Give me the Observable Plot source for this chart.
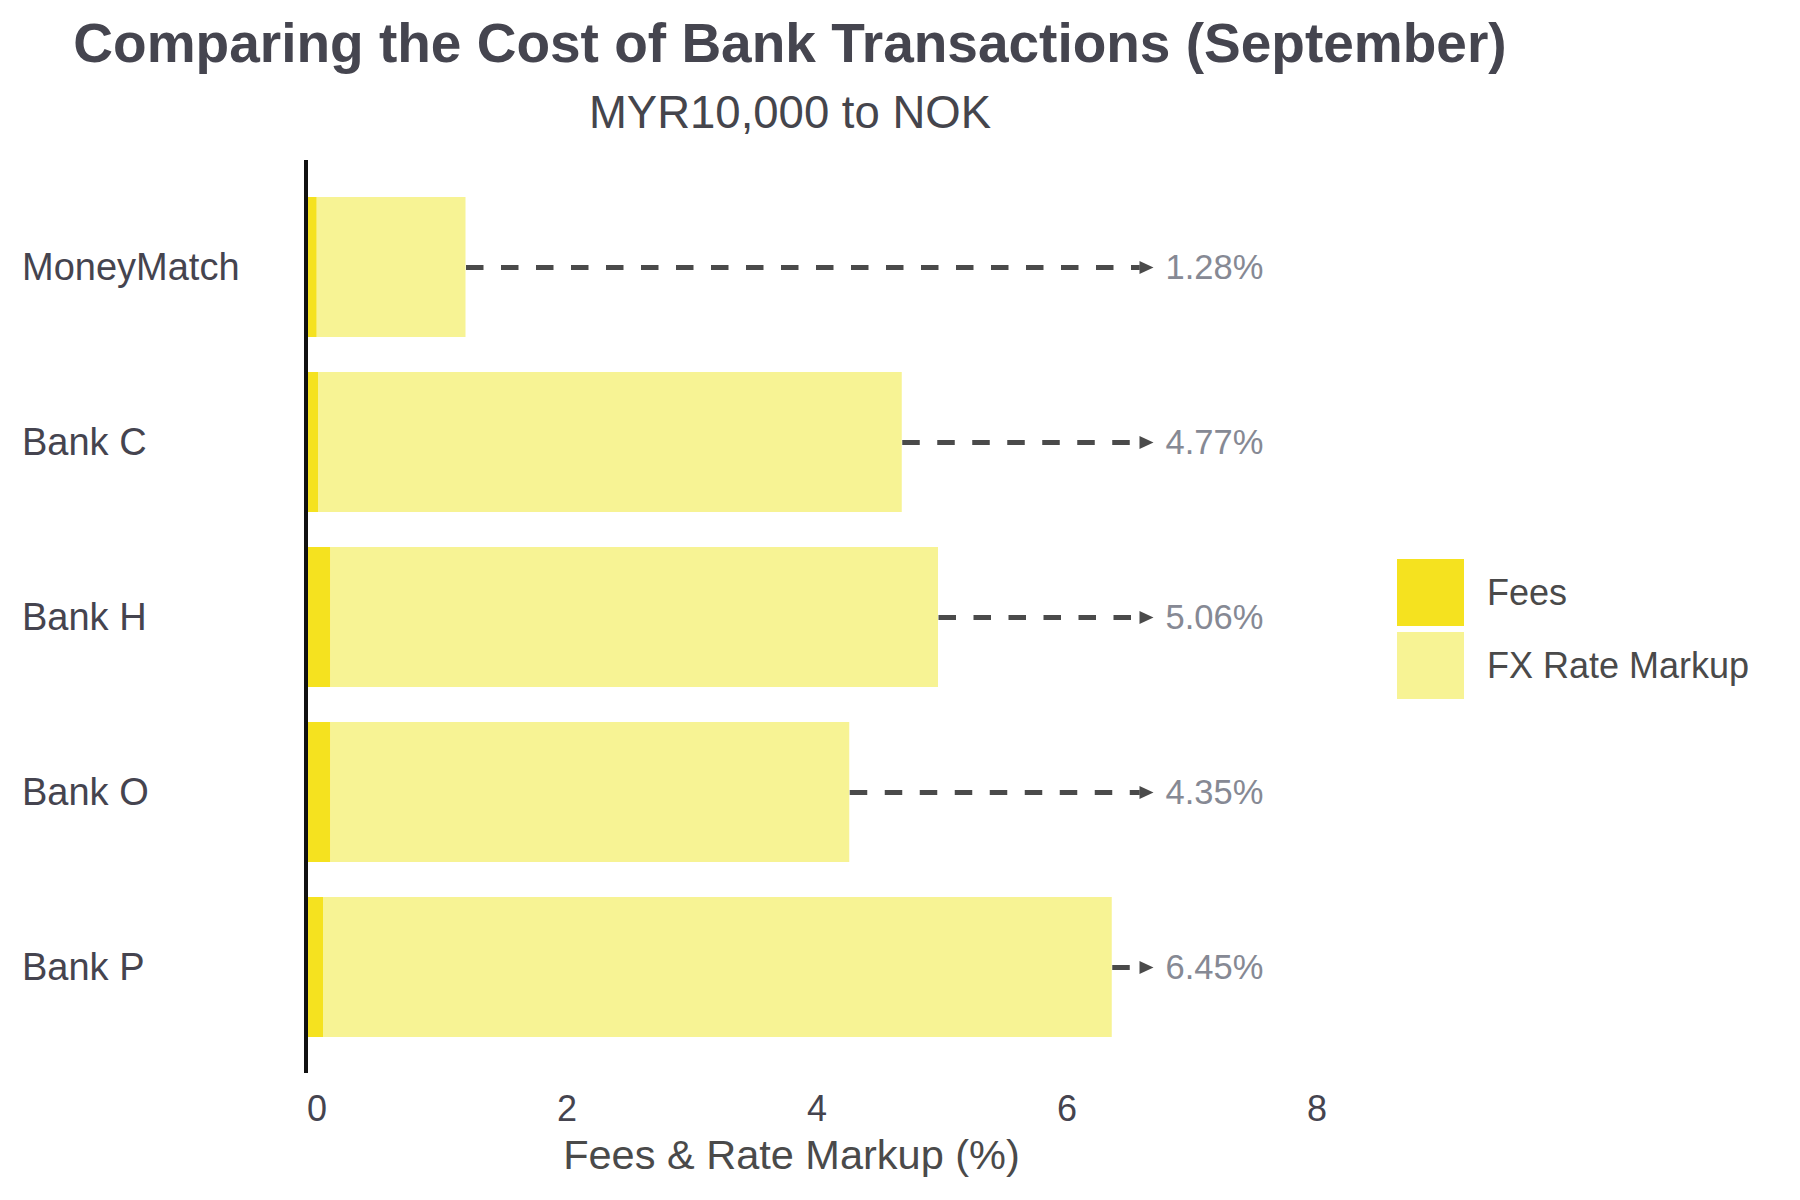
<!DOCTYPE html>
<html>
<head>
<meta charset="utf-8">
<script src="https://cdn.jsdelivr.net/npm/d3@7"></script>
<script src="https://cdn.jsdelivr.net/npm/@observablehq/plot@0.6"></script>
<style>
  body { margin: 0; background: #fff; }
  #wrap { position: relative; width: 1800px; height: 1200px; background: #fff; font-family: "Liberation Sans", Arial, sans-serif; overflow: hidden; }
  .hdr { position: absolute; left: 0; width: 1580px; text-align: center; white-space: nowrap; }
  #title { top: 16.4px; font-size: 55px; line-height: 55px; font-weight: 700; color: #45454f; }
  #subtitle { top: 90px; font-size: 45.5px; line-height: 45.5px; color: #45454c; }
  #chart { position: absolute; left: 0; top: 145px; }
  .sw { position: absolute; left: 1397px; width: 67px; height: 67px; }
  .lg { position: absolute; left: 1487px; font-size: 36px; line-height: 36px; color: #4a4a4a; white-space: nowrap; }
</style>
</head>
<body>
<div id="wrap">
  <div id="title" class="hdr"></div>
  <div id="subtitle" class="hdr"></div>
  <div id="chart"></div>
  <div id="legend"></div>
</div>
<script>
// ---- data ----
const titleText = "Comparing the Cost of Bank Transactions (September)";
const subtitleText = "MYR10,000 to NOK";
const xLabel = "Fees & Rate Markup (%)";
const banks = ["MoneyMatch", "Bank C", "Bank H", "Bank O", "Bank P"];
const fees = [0.09, 0.10, 0.20, 0.20, 0.14];
const markups = [1.19, 4.67, 4.86, 4.15, 6.31];
const totals = [1.28, 4.77, 5.06, 4.35, 6.45];
const seriesNames = ["Fees", "FX Rate Markup"];
const seriesColors = ["#F5E21F", "#F7F394"];
const xTicks = [0, 2, 4, 6, 8];
const arrowTip = 6.78;
const arrowBase = 6.67;

document.getElementById("title").textContent = titleText;
document.getElementById("subtitle").textContent = subtitleText;

const long = banks.flatMap((b, i) => [
  {bank: b, type: seriesNames[0], value: fees[i]},
  {bank: b, type: seriesNames[1], value: markups[i]}
]);
const tot = banks.map((b, i) => ({bank: b, total: totals[i]}));

const arrowHead = {
  draw(ctx) {
    ctx.moveTo(0, 0);
    ctx.lineTo(-14, -6.5);
    ctx.lineTo(-14, 6.5);
    ctx.closePath();
  }
};

const chart = Plot.plot({
  width: 1800,
  height: 1055,
  marginTop: 15,
  marginBottom: 127,
  marginLeft: 305.5,
  marginRight: 494.5,
  style: {fontFamily: "Liberation Sans, Arial, sans-serif", fontSize: "36px", color: "#45444f", background: "transparent"},
  x: {domain: [0, 8]},
  y: {domain: banks, padding: 0.2},
  color: {domain: seriesNames, range: seriesColors},
  marks: [
    Plot.barX(long, {x: "value", y: "bank", fill: "type"}),
    Plot.link(tot, {x1: "total", x2: () => arrowBase, y1: "bank", y2: "bank",
      stroke: "#4a4a4a", strokeWidth: 5, strokeDasharray: "17.5,17.5"}),
    Plot.dot(tot, {x: () => arrowTip, y: "bank", symbol: arrowHead, fill: "#4a4a4a", stroke: "none"}),
    Plot.text(tot, {x: () => arrowTip, y: "bank", text: d => d.total.toFixed(2) + "%",
      textAnchor: "start", dx: 12, fontSize: 34.5, fill: "#868994"}),
    Plot.ruleX([0], {stroke: "#111", strokeWidth: 4}),
    Plot.axisY({tickSize: 0, tickPadding: 0, textAnchor: "start", dx: -284, fontSize: 38, label: null, fill: "#45444f"}),
    Plot.axisX({ticks: xTicks, tickSize: 0, tickPadding: 22, dx: 11, fontSize: 36, label: null, fill: "#45444f"}),
    Plot.text([xLabel], {frameAnchor: "bottom", text: d => d, lineAnchor: "bottom", dx: -14.5, dy: 95, fontSize: 41.5, fill: "#4a4a4a"})
  ]
});
document.getElementById("chart").appendChild(chart);

// legend
const legend = document.getElementById("legend");
const swTops = [559, 632];
seriesNames.forEach((name, i) => {
  const sw = document.createElement("div");
  sw.className = "sw";
  sw.style.top = swTops[i] + "px";
  sw.style.background = seriesColors[i];
  legend.appendChild(sw);
  const lb = document.createElement("div");
  lb.className = "lg";
  lb.style.top = (swTops[i] + 16.2) + "px";
  lb.textContent = name;
  legend.appendChild(lb);
});
</script>
</body>
</html>
